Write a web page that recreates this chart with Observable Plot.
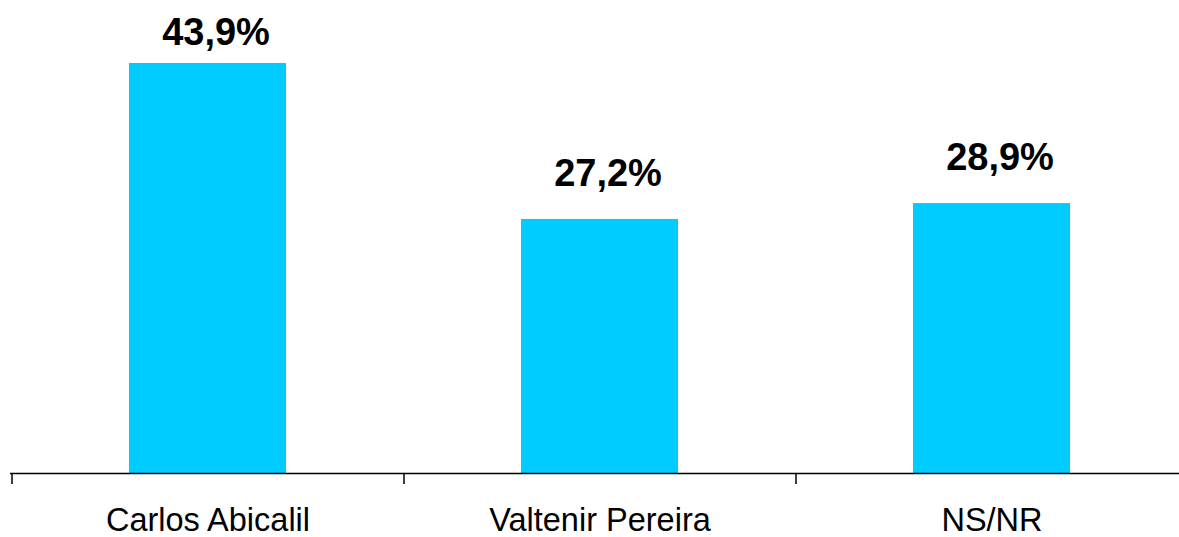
<!DOCTYPE html>
<html>
<head>
<meta charset="utf-8">
<script src="https://cdn.jsdelivr.net/npm/d3@7"></script>
<script src="https://cdn.jsdelivr.net/npm/@observablehq/plot@0.6"></script>
<style>
  html, body { margin: 0; padding: 0; background: #fff; }
  svg { display: block; }
</style>
</head>
<body>
<div id="chart"></div>
<script>
const categories = ["Carlos Abicalil", "Valtenir Pereira", "NS/NR"];
const values = [43.9, 27.2, 28.9];

const data = categories.map((c, i) => ({ category: c, value: values[i] }));
const fmt = v => v.toFixed(1).replace(".", ",") + "%";
const maxValue = d3.max(values);

const labelStyle = {
  x: "category", y: "value", text: d => fmt(d.value),
  dx: 8, lineAnchor: "bottom", fontSize: 38, fontWeight: "bold", fill: "#000"
};

const chart = Plot.plot({
  width: 1179,
  height: 537,
  marginTop: 0,
  marginLeft: 10,
  marginRight: 0,
  marginBottom: 64,
  style: { fontFamily: "'Liberation Sans', Arial, sans-serif", background: "#fff" },
  x: { domain: categories, range: [11, 1187], paddingInner: 0.6, paddingOuter: 0.3, axis: null },
  y: { domain: [0, 50], range: [473, 6], axis: null },
  marks: [
    Plot.barY(data, { x: "category", y: "value", fill: "#00CCFF" }),
    Plot.ruleY([0], { stroke: "#000", strokeWidth: 1.5 }),
    Plot.ruleX(categories, { x: d => d, y1: 0, y2: 0, dx: -196, insetBottom: -11, stroke: "#000", strokeWidth: 1.5 }),
    // tallest bar's label is pulled closer to fit at the top
    Plot.text(data, { ...labelStyle, filter: d => d.value === maxValue, dy: -18 }),
    Plot.text(data, { ...labelStyle, filter: d => d.value !== maxValue, dy: -33.5 }),
    Plot.text(categories, {
      x: d => d, frameAnchor: "bottom", text: d => d,
      dy: 57, lineAnchor: "bottom", fontSize: 32.5, fill: "#000"
    })
  ]
});
document.getElementById("chart").append(chart);
</script>
</body>
</html>
